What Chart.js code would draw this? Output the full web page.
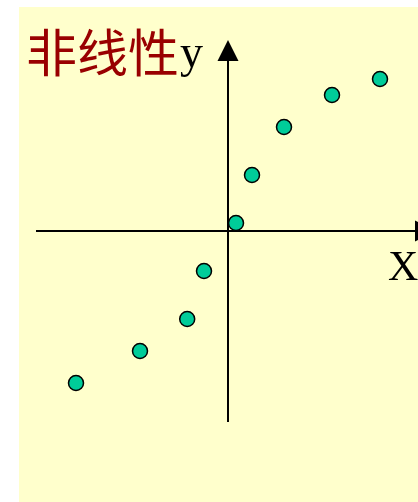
<!DOCTYPE html>
<html>
<head>
<meta charset="utf-8">
<script src="https://cdn.jsdelivr.net/npm/chart.js@4/dist/chart.umd.min.js"></script>
<style>
html,body{margin:0;padding:0;background:#fff;}
#wrap{position:relative;width:418px;height:502px;}
</style>
</head>
<body>
<div id="wrap"><canvas id="c" width="418" height="502"></canvas></div>
<script>
// Data (arbitrary units, origin at the axes crossing)
const xValues = [-19, -11, -5.1, -3, 1, 3, 7, 13, 19];
const yValues = [-19, -15, -11, -5, 1, 7, 13, 17, 19];
const titleText = "非线性";
const yLabel = "y";
const xLabel = "X";

const points = xValues.map((x, i) => ({x: x, y: yValues[i]}));

const bgPlugin = {
  id: 'bg',
  beforeDraw(chart) {
    const ctx = chart.ctx;
    ctx.save();
    ctx.fillStyle = '#ffffcc';
    ctx.fillRect(19, 7, 399, 495);
    ctx.restore();
  }
};

const axesPlugin = {
  id: 'crossAxes',
  beforeDatasetsDraw(chart) {
    const ctx = chart.ctx;
    const xs = chart.scales.x, ys = chart.scales.y;
    const ox = xs.getPixelForValue(0), oy = ys.getPixelForValue(0);
    const a = chart.chartArea;
    ctx.save();
    ctx.strokeStyle = '#000';
    ctx.fillStyle = '#000';
    ctx.lineWidth = 2;
    // vertical axis
    ctx.beginPath();
    ctx.moveTo(ox, a.bottom);
    ctx.lineTo(ox, a.top + 18);
    ctx.stroke();
    ctx.beginPath();
    ctx.moveTo(ox, a.top);
    ctx.lineTo(ox - 10.5, a.top + 21);
    ctx.lineTo(ox + 10.5, a.top + 21);
    ctx.closePath();
    ctx.fill();
    // horizontal axis
    ctx.beginPath();
    ctx.moveTo(a.left, oy);
    ctx.lineTo(a.right, oy);
    ctx.stroke();
    ctx.beginPath();
    ctx.moveTo(a.right + 18, oy);
    ctx.lineTo(a.right - 3, oy - 10.5);
    ctx.lineTo(a.right - 3, oy + 10.5);
    ctx.closePath();
    ctx.fill();
    // labels
    ctx.textBaseline = 'alphabetic';
    ctx.textAlign = 'left';
    ctx.fillStyle = '#990000';
    ctx.font = '51px "Noto Sans CJK SC"';
    ctx.fillText(titleText, 26, 72);
    ctx.fillStyle = '#000';
    ctx.font = '46px "Liberation Serif"';
    ctx.fillText(yLabel, 180, 67);
    ctx.font = '42px "Liberation Serif"';
    ctx.fillText(xLabel, 388, 280);
    ctx.restore();
  }
};

new Chart(document.getElementById('c'), {
  type: 'scatter',
  data: {
    datasets: [{
      data: points,
      backgroundColor: '#00cc99',
      borderColor: '#000',
      borderWidth: 1.5,
      pointRadius: 7.5,
      pointHoverRadius: 7.5,
      clip: false
    }]
  },
  options: {
    responsive: false,
    animation: false,
    events: [],
    layout: {autoPadding: false, padding: {left: 36, right: 0, top: 40, bottom: 80}},
    plugins: {legend: {display: false}, tooltip: {enabled: false}, title: {display: false}},
    scales: {
      x: {type: 'linear', min: -24, max: 23.75, display: false},
      y: {type: 'linear', min: -23.875, max: 23.875, display: false}
    }
  },
  plugins: [bgPlugin, axesPlugin]
});
</script>
</body>
</html>
